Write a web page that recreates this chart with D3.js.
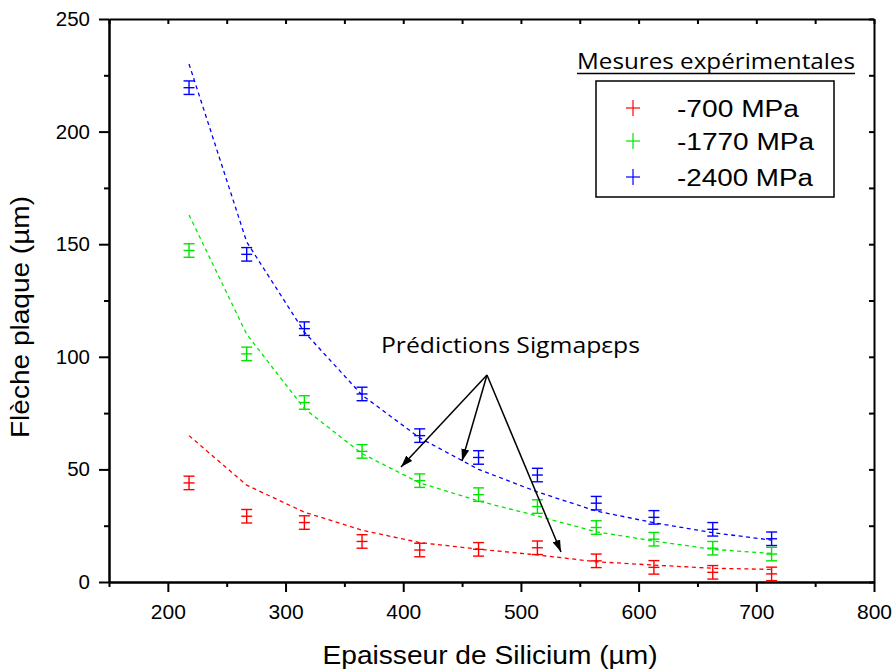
<!DOCTYPE html>
<html><head><meta charset="utf-8">
<script src="https://cdn.jsdelivr.net/npm/d3@7"></script>
<style>body{margin:0;background:#fff}svg{display:block}</style>
</head><body><div id="chart"></div>
<script>
const thickness = [218, 267, 316, 365, 414, 464, 514, 564, 613, 663, 713];
const meas700  = [44, 29.2, 26.4, 18, 14.2, 14.5, 15.2, 9.4, 6.5, 4.3, 3.6];
const meas1770 = [147.2, 101.3, 79.7, 58, 45, 38.8, 33.5, 24.2, 19, 15, 12.4];
const meas2400 = [219.5, 145.5, 112.5, 83.5, 65, 55.3, 47.5, 35, 28.7, 23.4, 19.2];
const pred700  = [65, 43, 31, 23, 17.5, 14.6, 12, 9, 7.5, 6.1, 5.6];
const pred1770 = [163, 110, 77, 57, 44, 36, 29.3, 22.3, 18.2, 14.5, 12.7];
const pred2400 = [230, 151, 111, 83, 64, 50, 40, 31.5, 26.3, 21.9, 18.6];
const errHalf = [3, 3, 3, 3, 3, 3, 3, 3, 3, 3, 3];
const seriesNames = ["-700 MPa", "-1770 MPa", "-2400 MPa"];
const seriesColors = ["#ff0000", "#00e600", "#0000ff"];
const xTicks = [200, 300, 400, 500, 600, 700, 800];
const yTicks = [0, 50, 100, 150, 200, 250];

const W = 893, H = 671;
const svg = d3.select("#chart").append("svg").attr("width", W).attr("height", H);
const x = d3.scaleLinear().domain([150, 800]).range([109, 874]);
const y = d3.scaleLinear().domain([0, 250]).range([582, 19]);
const font = "'Liberation Sans', Arial, sans-serif";
const font2 = "'Open Sans', 'Noto Sans', sans-serif";

// Axes
const xAxis = svg.append("g").attr("transform", `translate(0,${y(0)})`)
  .call(d3.axisBottom(x).tickValues(xTicks).tickSize(10).tickSizeOuter(0).tickFormat(d3.format("d")));
const xMinor = svg.append("g").attr("transform", `translate(0,${y(0)})`)
  .call(d3.axisBottom(x).tickValues([150, 250, 350, 450, 550, 650, 750]).tickSize(5).tickSizeOuter(0).tickFormat(""));
const yAxis = svg.append("g").attr("transform", `translate(${x(150)},0)`)
  .call(d3.axisLeft(y).tickValues(yTicks).tickSize(10).tickSizeOuter(0).tickFormat(d3.format("d")));
const yMinor = svg.append("g").attr("transform", `translate(${x(150)},0)`)
  .call(d3.axisLeft(y).tickValues([25, 75, 125, 175, 225]).tickSize(5).tickSizeOuter(0).tickFormat(""));
const yRight = svg.append("g").attr("transform", `translate(${x(800)},0)`)
  .call(d3.axisLeft(y).tickValues([0, 25, 50, 75, 100, 125, 150, 175, 200, 225, 250]).tickSize(5).tickSizeOuter(0).tickFormat(""));
const xTop = svg.append("g").attr("transform", `translate(0,${y(250)})`)
  .call(d3.axisBottom(x).tickValues([150, 200, 250, 300, 350, 400, 450, 500, 550, 600, 650, 700, 750, 800]).tickSize(5).tickSizeOuter(0).tickFormat(""));
[xAxis, xMinor, yAxis, yMinor, yRight, xTop].forEach(g => {
  g.selectAll("path").attr("stroke", "#000").attr("stroke-width", 2);
  g.selectAll("line").attr("stroke", "#000").attr("stroke-width", 2);
});
xAxis.selectAll("text").attr("font-family", font).attr("font-size", 21).attr("fill", "#000").attr("dy", null).attr("y", 37);
yAxis.selectAll("text").attr("font-family", font).attr("font-size", 20.5).attr("fill", "#000").attr("x", -19);

// Axis titles
svg.append("text").attr("x", 490).attr("y", 664).attr("text-anchor", "middle")
  .attr("font-family", font).attr("font-size", 26).attr("textLength", 335).attr("lengthAdjust", "spacingAndGlyphs")
  .text("Epaisseur de Silicium (µm)");
svg.append("text").attr("transform", "translate(29,317) rotate(-90)").attr("text-anchor", "middle")
  .attr("font-family", font).attr("font-size", 25).attr("textLength", 242).attr("lengthAdjust", "spacingAndGlyphs")
  .text("Flèche plaque (µm)");

// Series
const meas = [meas700, meas1770, meas2400];
const preds = [pred700, pred1770, pred2400];
const line = d3.line().x(d => x(d[0])).y(d => y(d[1]));
preds.forEach((p, i) => {
  svg.append("path").datum(thickness.map((t, j) => [t, p[j]]))
    .attr("d", line).attr("fill", "none").attr("stroke", seriesColors[i])
    .attr("stroke-width", 1.3).attr("stroke-dasharray", "4,3.5");
});
const cap = 5.5;
meas.forEach((m, i) => {
  const g = svg.append("g").attr("stroke", seriesColors[i]).attr("stroke-width", 1.4);
  thickness.forEach((t, j) => {
    const cx = x(t), lo = y(m[j] - errHalf[j]), hi = y(m[j] + errHalf[j]), cy = y(m[j]);
    g.append("line").attr("x1", cx).attr("x2", cx).attr("y1", lo).attr("y2", hi);
    g.append("line").attr("x1", cx - cap).attr("x2", cx + cap).attr("y1", lo).attr("y2", lo);
    g.append("line").attr("x1", cx - cap).attr("x2", cx + cap).attr("y1", hi).attr("y2", hi);
    g.append("line").attr("x1", cx - cap).attr("x2", cx + cap).attr("y1", cy).attr("y2", cy);
  });
});

// Legend
svg.append("text").attr("x", 577).attr("y", 69).attr("font-family", font2).attr("font-size", 22)
  .attr("textLength", 278).attr("lengthAdjust", "spacingAndGlyphs").text("Mesures expérimentales");
svg.append("line").attr("x1", 577).attr("x2", 855).attr("y1", 73.5).attr("y2", 73.5).attr("stroke", "#000").attr("stroke-width", 1.5);
svg.append("rect").attr("x", 596).attr("y", 81).attr("width", 238).attr("height", 116)
  .attr("fill", "none").attr("stroke", "#000").attr("stroke-width", 1.5);
const legY = [108, 141, 177];
const legW = [122, 137, 136];
seriesNames.forEach((n, i) => {
  const g = svg.append("g").attr("stroke", seriesColors[i]).attr("stroke-width", 1.2);
  g.append("line").attr("x1", 626).attr("x2", 640).attr("y1", legY[i]).attr("y2", legY[i]);
  g.append("line").attr("x1", 633).attr("x2", 633).attr("y1", legY[i] - 8).attr("y2", legY[i] + 8);
  svg.append("text").attr("x", 677).attr("y", legY[i] + 9).attr("font-family", font).attr("font-size", 23.5)
    .attr("textLength", legW[i]).attr("lengthAdjust", "spacingAndGlyphs").text(n);
});

// Annotation
svg.append("text").attr("x", 381).attr("y", 353).attr("font-family", font2).attr("font-size", 22.5)
  .attr("textLength", 259).attr("lengthAdjust", "spacingAndGlyphs").text("Prédictions Sigmapεps");
const defs = svg.append("defs");
defs.append("marker").attr("id", "ah").attr("viewBox", "0 0 12 8").attr("refX", 12).attr("refY", 4)
  .attr("markerWidth", 12).attr("markerHeight", 8).attr("markerUnits", "userSpaceOnUse").attr("orient", "auto")
  .append("path").attr("d", "M0,0 L12,4 L0,8 Z").attr("fill", "#000");
const apex = [487, 375];
[[401, 467], [462, 461], [561, 552]].forEach(t => {
  svg.append("line").attr("x1", apex[0]).attr("y1", apex[1]).attr("x2", t[0]).attr("y2", t[1])
    .attr("stroke", "#000").attr("stroke-width", 1.5).attr("marker-end", "url(#ah)");
});
</script></body></html>
